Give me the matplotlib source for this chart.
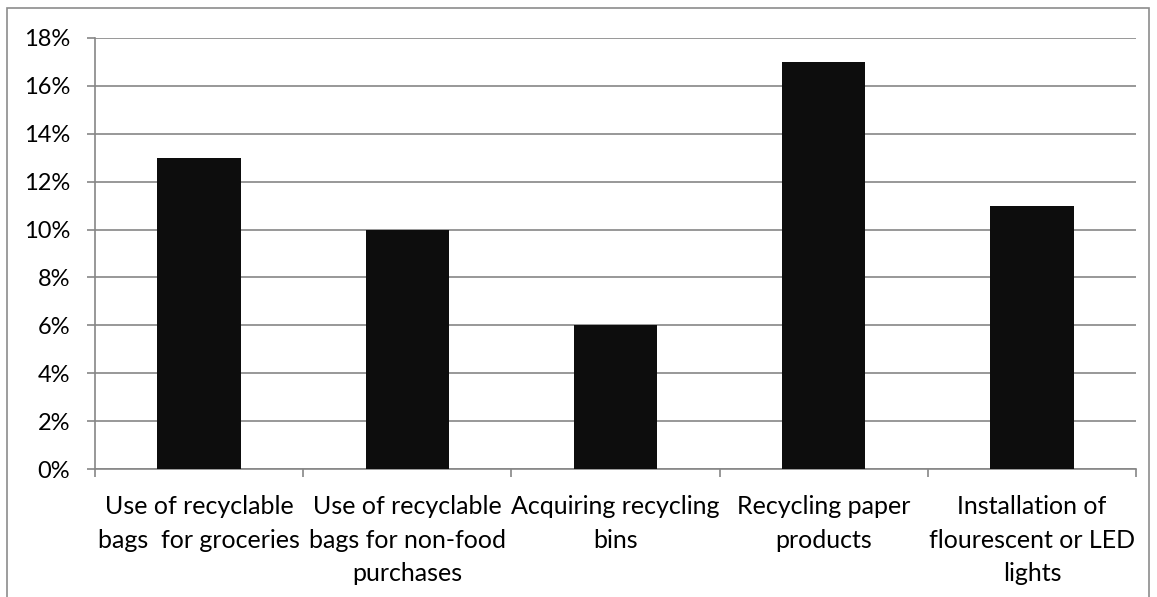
import numpy as np
import matplotlib
matplotlib.use("Agg")
import matplotlib.pyplot as plt
import matplotlib.patches as patches
from matplotlib.ticker import PercentFormatter

categories = [
    "Use of recyclable\nbags  for groceries",
    "Use of recyclable\nbags for non-food\npurchases",
    "Acquiring recycling\nbins",
    "Recycling paper\nproducts",
    "Installation of\nflourescent or LED\nlights",
]
values = [13, 10, 6, 17, 11]
y_ticks = [0, 2, 4, 6, 8, 10, 12, 14, 16, 18]

plt.rcParams['font.family'] = ['Lato', 'DejaVu Sans']
grid_col = "#868686"

fig = plt.figure(figsize=(11.57, 5.97), dpi=100)
ax = fig.add_axes([95 / 1157, 1 - 469 / 597, (1136 - 95) / 1157, (469 - 38) / 597])

x = np.arange(len(values)) + 0.5
ax.bar(x, values, width=0.4, color="#0d0d0d", zorder=3)

ax.set_xlim(0, len(values))
ax.set_ylim(0, 18)
ax.set_yticks(y_ticks)
ax.yaxis.set_major_formatter(PercentFormatter(decimals=0))
ax.grid(axis="y", color=grid_col, linewidth=1.2, zorder=0)

# ticks at category boundaries, labels at centres
ax.set_xticks(np.arange(len(values) + 1))
ax.set_xticklabels([])
ax.set_xticks(x, minor=True)
ax.set_xticklabels(categories, minor=True, fontsize=18, linespacing=1.55)
ax.tick_params(axis="x", which="minor", length=0, pad=19)
ax.tick_params(axis="x", which="major", length=6, color=grid_col, width=1.2)
ax.tick_params(axis="y", length=6, color=grid_col, width=1.2, labelsize=17, pad=12)

for s in ["top", "right"]:
    ax.spines[s].set_visible(False)
for s in ["left", "bottom"]:
    ax.spines[s].set_color(grid_col)
    ax.spines[s].set_linewidth(1.2)

border = patches.Rectangle((7 / 1157, -0.05), 1142 / 1157, 1 - 8 / 597 + 0.05,
                           transform=fig.transFigure, fill=False,
                           edgecolor="#8c8c8c", linewidth=1.2, clip_on=False)
fig.patches.append(border)

fig.savefig("out.png", dpi=100)
